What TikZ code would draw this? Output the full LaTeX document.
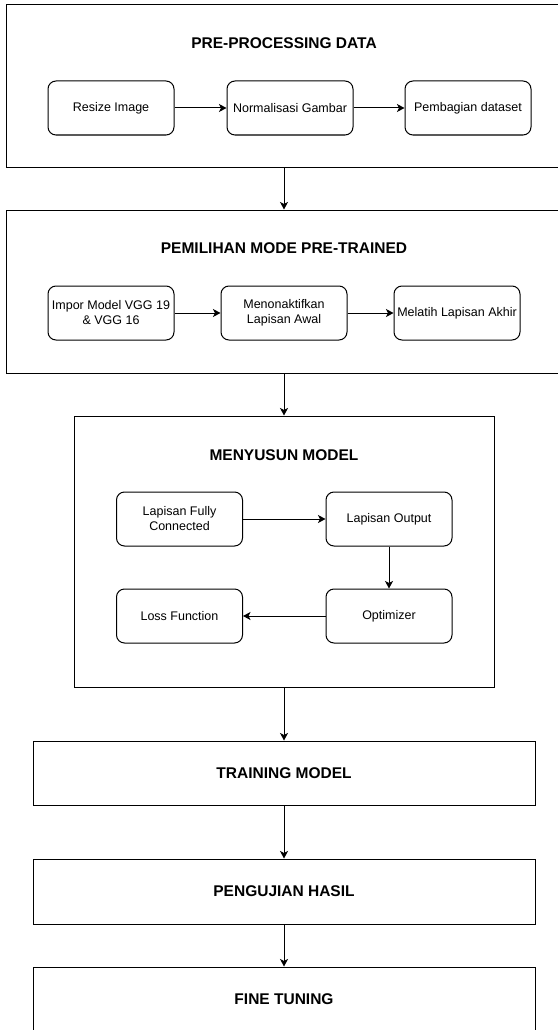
\documentclass[tikz,border=0pt]{standalone}
\usepackage{fontspec}
\setmainfont{Liberation Sans}
\usetikzlibrary{arrows.meta}

\tikzset{
  frame/.style={draw=black, line width=1pt, inner sep=0pt},
  stepbox/.style={draw=black, line width=1pt, rounded corners=8pt,
    minimum width=126pt, minimum height=54pt, inner sep=0pt,
    align=center, text=black, font=\fontsize{12.5}{15}\selectfont},
  heading/.style={font=\fontsize{15.5}{18}\selectfont\bfseries, text=black},
  flow/.style={line width=1pt, -{Stealth[length=7.5pt,width=8pt,inset=2pt]}}
}

\begin{document}
\begin{tikzpicture}[x=1pt, y=-1pt]
  \useasboundingbox[fill=white] (0,0) rectangle (557,1030);

  % stage 1: data preparation
  \node[frame, minimum width=556pt, minimum height=162pt] (pre) at (284,86) {};
  \node[heading] (preT) at (284,43) {PRE-PROCESSING DATA};
  \node[stepbox] (resize) at (111,108) {Resize Image};
  \node[stepbox] (norm)   at (290,108) {Normalisasi Gambar};
  \node[stepbox] (split)  at (468,108) {Pembagian dataset};

  % stage 2: pre-trained model selection
  \node[frame, minimum width=556pt, minimum height=163pt] (pem) at (284,291.5) {};
  \node[heading] (pemT) at (284,248) {PEMILIHAN MODE PRE-TRAINED};
  \node[stepbox] (impor)  at (111,313) {Impor Model VGG 19\\ \& VGG 16};
  \node[stepbox] (freeze) at (284,313) {Menonaktifkan\\ Lapisan Awal};
  \node[stepbox] (train)  at (457,313) {Melatih Lapisan Akhir};

  % stage 3: model assembly
  \node[frame, minimum width=420pt, minimum height=271pt] (build) at (284,551.5) {};
  \node[heading] (buildT) at (284,455) {MENYUSUN MODEL};
  \node[stepbox] (fc)   at (179.5,519) {Lapisan Fully\\ Connected};
  \node[stepbox] (outl) at (389,519)   {Lapisan Output};
  \node[stepbox] (opt)  at (389,616)   {Optimizer};
  \node[stepbox] (loss) at (179.5,616) {Loss Function};

  % remaining stages
  \node[frame, heading, minimum width=502pt, minimum height=64pt] (trn) at (284,773) {TRAINING MODEL};
  \node[frame, heading, minimum width=502pt, minimum height=65pt] (test) at (284,891.5) {PENGUJIAN HASIL};
  \node[frame, heading, minimum width=502pt, minimum height=65pt] (tune) at (284,999.5) {FINE TUNING};

  % connectors inside the stages
  \draw[flow] (resize) -- (norm);
  \draw[flow] (norm) -- (split);
  \draw[flow] (impor) -- (freeze);
  \draw[flow] (freeze) -- (train);
  \draw[flow] (fc) -- (outl);
  \draw[flow] (outl) -- (opt);
  \draw[flow] (opt) -- (loss);

  % connectors between the stages
  \draw[flow] (pre.south) -- (pem.north);
  \draw[flow] (pem.south) -- (build.north);
  \draw[flow] (build.south) -- (trn.north);
  \draw[flow] (trn.south) -- (test.north);
  \draw[flow] (test.south) -- (tune.north);
\end{tikzpicture}
\end{document}
